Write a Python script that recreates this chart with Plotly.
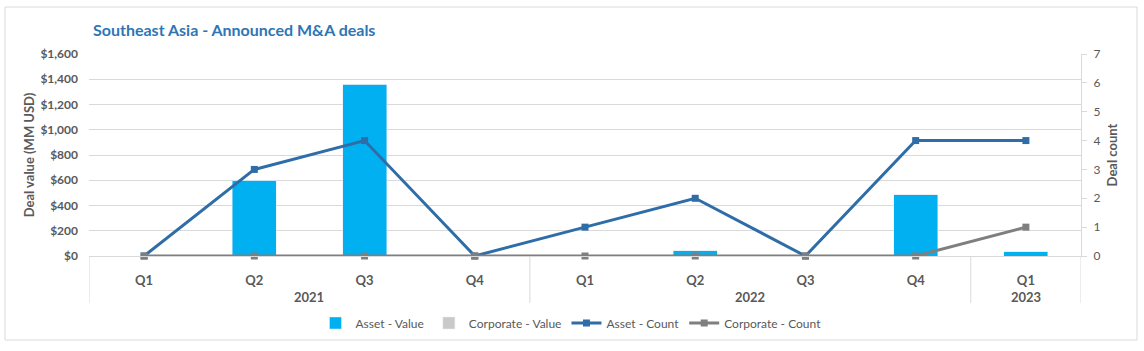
import plotly.graph_objects as go

years = ["2021", "2021", "2021", "2021", "2022", "2022", "2022", "2022", "2023"]
quarters = ["Q1", "Q2", "Q3", "Q4", "Q1", "Q2", "Q3", "Q4", "Q1"]
asset_value = [0, 600, 1360, 0, 0, 40, 0, 485, 35]
corporate_value = [0, 0, 0, 0, 0, 0, 0, 0, 0]
asset_count = [0, 3, 4, 0, 1, 2, 0, 4, 4]
corporate_count = [0, 0, 0, 0, 0, 0, 0, 0, 1]

FONT = "Lato"
GRAY = "#595959"
DIV = "#D9D9D9"

cats = [f"{y} {q}" for y, q in zip(years, quarters)]

fig = go.Figure()
fig.add_trace(go.Bar(x=cats, y=asset_value, name="Asset - Value", marker_color="#00B0F0",
                     width=0.4, yaxis="y"))
fig.add_trace(go.Bar(x=cats, y=corporate_value, name="Corporate - Value", marker_color="#C9C9C9",
                     width=0.4, yaxis="y"))
fig.add_trace(go.Scatter(x=cats, y=asset_count, name="Asset - Count", mode="lines+markers",
                         line=dict(color="#2E6DA8", width=3), cliponaxis=False,
                         marker=dict(symbol="square", size=7, color="#2E6DA8"), yaxis="y2"))
fig.add_trace(go.Scatter(x=cats, y=corporate_count, name="Corporate - Count", mode="lines+markers",
                         line=dict(color="#7F7F7F", width=3), cliponaxis=False,
                         marker=dict(symbol="square", size=7, color="#7F7F7F"), yaxis="y2"))

# plot area in pixels: x 89..1081, y 54..256
L, R, T, B = 89, 1081, 54, 256
W, H = R - L, B - T
def px(xp):
    return (xp - L) / W
def py(yp):
    return (B - yp) / H

fig.update_layout(
    width=1144, height=351,
    margin=dict(l=L, r=1144 - R, t=T, b=351 - B),
    paper_bgcolor="white", plot_bgcolor="white",
    barmode="stack",
    font=dict(family=FONT, color=GRAY, size=12),
    title=dict(text="<b>Southeast Asia - Announced M&A deals</b>",
               x=px(93), xref="paper", xanchor="left",
               y=1 - 30 / 351, yanchor="middle",
               font=dict(family=FONT, size=16, color="#2E75B6")),
    xaxis=dict(type="category", showgrid=False, showline=True, linecolor=DIV,
               linewidth=1, ticks="", tickvals=cats, ticktext=quarters,
               ticklabelstandoff=12, range=[-0.5, len(cats) - 0.5],
               tickfont=dict(family=FONT, size=13, color=GRAY, weight="bold")),
    yaxis=dict(range=[0, 1600], dtick=200, tickprefix="$", tickformat=",",
               showgrid=True, gridcolor=DIV, gridwidth=1, zeroline=False,
               showline=False, ticks="", ticklabelstandoff=10,
               tickfont=dict(family=FONT, size=12, color=GRAY, weight="bold"),
               title=dict(text="<b>Deal value (MM USD)</b>", font=dict(family=FONT, size=13, color=GRAY),
                          standoff=2)),
    yaxis2=dict(range=[0, 7], dtick=1, overlaying="y", side="right", showgrid=False,
                zeroline=False, showline=True, linecolor=DIV, ticks="outside",
                ticklen=5, tickcolor=DIV, ticklabelstandoff=4,
                tickfont=dict(family=FONT, size=12, color=GRAY),
                title=dict(text="<b>Deal count</b>", font=dict(family=FONT, size=13, color=GRAY),
                           standoff=8)),
    legend=dict(orientation="h", x=px(571), xanchor="center", y=py(323), yanchor="middle",
                font=dict(family=FONT, size=12, color=GRAY), traceorder="normal"),
    showlegend=True,
)

# year group labels and dividers
groups = []
for i, y in enumerate(years):
    if not groups or groups[-1][0] != y:
        groups.append([y, i, i])
    else:
        groups[-1][2] = i
for y, i0, i1 in groups:
    fig.add_annotation(x=(i0 + i1) / 2, xref="x", y=py(297), yref="paper", text=f"<b>{y}</b>",
                       showarrow=False, yanchor="middle",
                       font=dict(family=FONT, size=13, color=GRAY))
bounds = [-0.5] + [i1 + 0.5 for _, _, i1 in groups]
for b in bounds:
    fig.add_shape(type="line", xref="x", yref="paper", x0=b, x1=b, y0=0, y1=py(303),
                  line=dict(color=DIV, width=1))

fig.add_shape(type="rect", xref="paper", yref="paper",
              x0=px(5), x1=px(1137), y0=py(340), y1=py(7),
              line=dict(color=DIV, width=1), fillcolor="rgba(0,0,0,0)", layer="below")

fig.write_html("out.html")
